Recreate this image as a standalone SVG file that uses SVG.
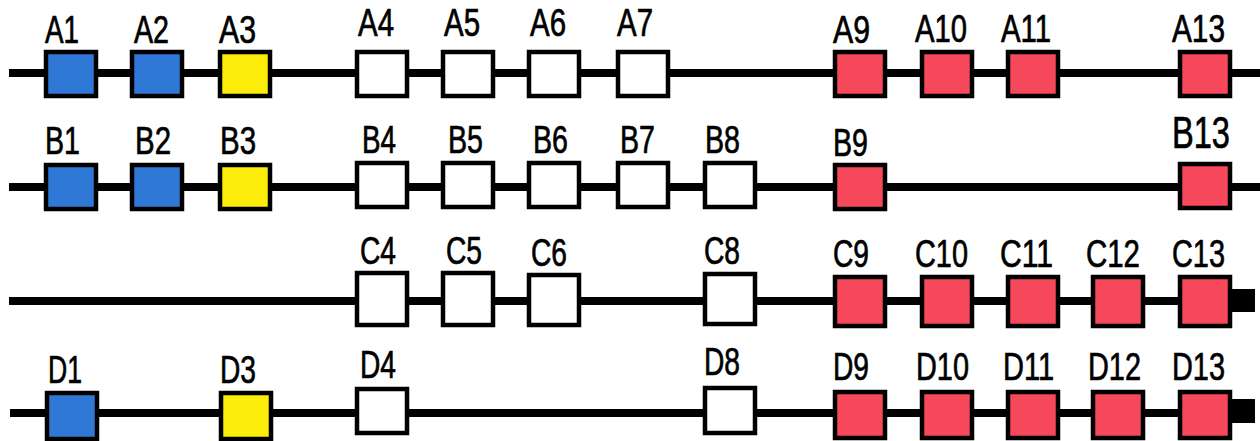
<svg xmlns="http://www.w3.org/2000/svg" width="1260" height="441" viewBox="0 0 1260 441">
  <style>
    .track { stroke: #000; stroke-width: 8; fill: none; }
    .box { stroke: #000; stroke-width: 4.5; }
    .blue { fill: #2f78d6; }
    .yellow { fill: #fbec0a; }
    .red { fill: #f5485a; }
    .empty { fill: #ffffff; }
    .cap { fill: #000; }
    .lbl { font-family: "Liberation Sans", Arial, sans-serif; font-size: 38px; fill: #000; stroke: #000; stroke-width: 0.7; }
    .big { font-size: 45px; }
  </style>
  <rect width="1260" height="441" fill="#ffffff"/>

  <!-- horizontal tracks and end caps -->
  <g id="connectors">
    <line class="track" x1="9" y1="73" x2="1260" y2="73"/>
    <line class="track" x1="9" y1="187" x2="1260" y2="187"/>
    <line class="track" x1="9" y1="301" x2="1240" y2="301"/>
    <line class="track" x1="10" y1="413" x2="1240" y2="413"/>
    <rect class="cap" x="1232" y="289" width="23" height="23"/>
    <rect class="cap" x="1232" y="399" width="23" height="24"/>
  </g>

  <!-- row A -->
  <g id="A1"><rect class="box blue" x="46" y="52" width="50" height="44"/><text class="lbl" x="45" y="43" textLength="34" lengthAdjust="spacingAndGlyphs">A1</text></g>
  <g id="A2"><rect class="box blue" x="132" y="52" width="50" height="44"/><text class="lbl" x="134" y="43" textLength="35" lengthAdjust="spacingAndGlyphs">A2</text></g>
  <g id="A3"><rect class="box yellow" x="220" y="52" width="50" height="44"/><text class="lbl" x="219" y="43" textLength="37" lengthAdjust="spacingAndGlyphs">A3</text></g>
  <g id="A4"><rect class="box empty" x="357" y="52" width="50" height="44"/><text class="lbl" x="358" y="36" textLength="36" lengthAdjust="spacingAndGlyphs">A4</text></g>
  <g id="A5"><rect class="box empty" x="443" y="52" width="50" height="44"/><text class="lbl" x="444" y="36" textLength="36" lengthAdjust="spacingAndGlyphs">A5</text></g>
  <g id="A6"><rect class="box empty" x="529" y="52" width="50" height="44"/><text class="lbl" x="530" y="36" textLength="36" lengthAdjust="spacingAndGlyphs">A6</text></g>
  <g id="A7"><rect class="box empty" x="618" y="52" width="50" height="44"/><text class="lbl" x="617" y="36" textLength="36" lengthAdjust="spacingAndGlyphs">A7</text></g>
  <g id="A9"><rect class="box red" x="835" y="52" width="50" height="44"/><text class="lbl" x="833" y="43" textLength="37" lengthAdjust="spacingAndGlyphs">A9</text></g>
  <g id="A10"><rect class="box red" x="922" y="52" width="50" height="44"/><text class="lbl" x="915" y="42" textLength="52" lengthAdjust="spacingAndGlyphs">A10</text></g>
  <g id="A11"><rect class="box red" x="1008" y="52" width="50" height="44"/><text class="lbl" x="1001" y="42" textLength="50" lengthAdjust="spacingAndGlyphs">A11</text></g>
  <g id="A13"><rect class="box red" x="1180" y="52" width="50" height="44"/><text class="lbl" x="1172" y="42" textLength="53" lengthAdjust="spacingAndGlyphs">A13</text></g>

  <!-- row B -->
  <g id="B1"><rect class="box blue" x="46" y="165" width="50" height="44"/><text class="lbl" x="45" y="154" textLength="35" lengthAdjust="spacingAndGlyphs">B1</text></g>
  <g id="B2"><rect class="box blue" x="132" y="165" width="50" height="44"/><text class="lbl" x="135" y="154" textLength="36" lengthAdjust="spacingAndGlyphs">B2</text></g>
  <g id="B3"><rect class="box yellow" x="220" y="165" width="50" height="44"/><text class="lbl" x="220" y="154" textLength="36" lengthAdjust="spacingAndGlyphs">B3</text></g>
  <g id="B4"><rect class="box empty" x="357" y="163" width="50" height="44"/><text class="lbl" x="362" y="153" textLength="34" lengthAdjust="spacingAndGlyphs">B4</text></g>
  <g id="B5"><rect class="box empty" x="443" y="163" width="50" height="44"/><text class="lbl" x="448" y="153" textLength="35" lengthAdjust="spacingAndGlyphs">B5</text></g>
  <g id="B6"><rect class="box empty" x="529" y="163" width="50" height="44"/><text class="lbl" x="533" y="153" textLength="35" lengthAdjust="spacingAndGlyphs">B6</text></g>
  <g id="B7"><rect class="box empty" x="618" y="163" width="50" height="44"/><text class="lbl" x="620" y="153" textLength="35" lengthAdjust="spacingAndGlyphs">B7</text></g>
  <g id="B8"><rect class="box empty" x="705" y="163" width="50" height="44"/><text class="lbl" x="705" y="153" textLength="35" lengthAdjust="spacingAndGlyphs">B8</text></g>
  <g id="B9"><rect class="box red" x="835" y="165" width="50" height="44"/><text class="lbl" x="833" y="156" textLength="35" lengthAdjust="spacingAndGlyphs">B9</text></g>
  <g id="B13"><rect class="box red" x="1180" y="164" width="50" height="44"/><text class="lbl big" x="1172" y="148" textLength="58" lengthAdjust="spacingAndGlyphs">B13</text></g>

  <!-- row C -->
  <g id="C4"><rect class="box empty" x="357" y="273" width="50" height="52"/><text class="lbl" x="360" y="264" textLength="36" lengthAdjust="spacingAndGlyphs">C4</text></g>
  <g id="C5"><rect class="box empty" x="443" y="273" width="50" height="52"/><text class="lbl" x="446" y="264" textLength="36" lengthAdjust="spacingAndGlyphs">C5</text></g>
  <g id="C6"><rect class="box empty" x="529" y="275" width="50" height="50"/><text class="lbl" x="531" y="266" textLength="36" lengthAdjust="spacingAndGlyphs">C6</text></g>
  <g id="C8"><rect class="box empty" x="705" y="274" width="50" height="50"/><text class="lbl" x="704" y="264" textLength="36" lengthAdjust="spacingAndGlyphs">C8</text></g>
  <g id="C9"><rect class="box red" x="835" y="277" width="50" height="49"/><text class="lbl" x="833" y="267" textLength="36" lengthAdjust="spacingAndGlyphs">C9</text></g>
  <g id="C10"><rect class="box red" x="922" y="277" width="50" height="49"/><text class="lbl" x="915" y="267" textLength="53" lengthAdjust="spacingAndGlyphs">C10</text></g>
  <g id="C11"><rect class="box red" x="1008" y="277" width="50" height="49"/><text class="lbl" x="1000" y="267" textLength="53" lengthAdjust="spacingAndGlyphs">C11</text></g>
  <g id="C12"><rect class="box red" x="1093" y="277" width="50" height="49"/><text class="lbl" x="1086" y="267" textLength="54" lengthAdjust="spacingAndGlyphs">C12</text></g>
  <g id="C13"><rect class="box red" x="1180" y="277" width="50" height="49"/><text class="lbl" x="1172" y="267" textLength="53" lengthAdjust="spacingAndGlyphs">C13</text></g>

  <!-- row D -->
  <g id="D1"><rect class="box blue" x="47" y="393" width="50" height="46"/><text class="lbl" x="48" y="383" textLength="34" lengthAdjust="spacingAndGlyphs">D1</text></g>
  <g id="D3"><rect class="box yellow" x="221" y="393" width="50" height="46"/><text class="lbl" x="220" y="383" textLength="36" lengthAdjust="spacingAndGlyphs">D3</text></g>
  <g id="D4"><rect class="box empty" x="357" y="389" width="50" height="44"/><text class="lbl" x="360" y="378" textLength="36" lengthAdjust="spacingAndGlyphs">D4</text></g>
  <g id="D8"><rect class="box empty" x="705" y="388" width="50" height="45"/><text class="lbl" x="704" y="375" textLength="36" lengthAdjust="spacingAndGlyphs">D8</text></g>
  <g id="D9"><rect class="box red" x="835" y="392" width="50" height="46"/><text class="lbl" x="833" y="380" textLength="36" lengthAdjust="spacingAndGlyphs">D9</text></g>
  <g id="D10"><rect class="box red" x="922" y="392" width="50" height="46"/><text class="lbl" x="916" y="380" textLength="53" lengthAdjust="spacingAndGlyphs">D10</text></g>
  <g id="D11"><rect class="box red" x="1008" y="392" width="50" height="46"/><text class="lbl" x="1003" y="380" textLength="51" lengthAdjust="spacingAndGlyphs">D11</text></g>
  <g id="D12"><rect class="box red" x="1093" y="392" width="50" height="46"/><text class="lbl" x="1088" y="380" textLength="53" lengthAdjust="spacingAndGlyphs">D12</text></g>
  <g id="D13"><rect class="box red" x="1180" y="392" width="50" height="46"/><text class="lbl" x="1172" y="380" textLength="53" lengthAdjust="spacingAndGlyphs">D13</text></g>
</svg>
